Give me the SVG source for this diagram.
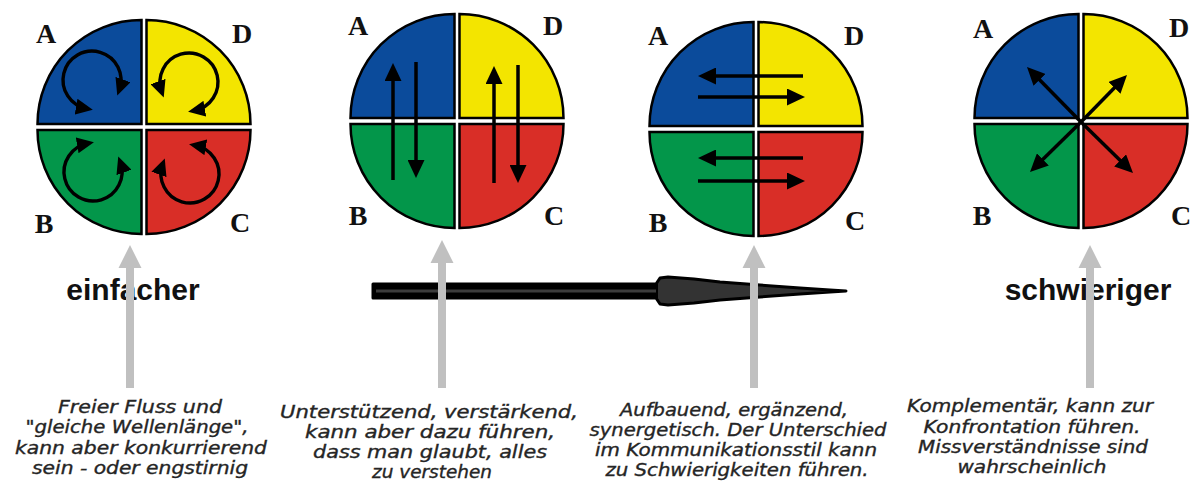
<svg xmlns="http://www.w3.org/2000/svg" width="1197" height="485" viewBox="0 0 1197 485">
<style>
.q{stroke:#000;stroke-width:2.5;stroke-linejoin:miter}
.qa{fill:#0b4b9b}.qd{fill:#f3e500}.qb{fill:#03964a}.qc{fill:#d92e27}
.lbl{font-family:"Liberation Serif",serif;font-weight:bold;font-size:28px;fill:#111;text-anchor:middle}
.ar{fill:none;stroke:#000;stroke-width:3.5;marker-end:url(#ah)}
.cr{fill:none;stroke:#000;stroke-width:3.4;marker-start:url(#ahs);marker-end:url(#ahs)}
.big{font-family:"Liberation Sans",Arial,sans-serif;font-weight:bold;font-size:30px;fill:#111;text-anchor:middle}
.desc{font-family:"DejaVu Sans",Verdana,sans-serif;font-style:italic;font-size:17px;fill:#252525;stroke:#252525;stroke-width:0.35;text-anchor:middle}
.gray{fill:#c0c0c0}
</style>
<defs>
<marker id="ah" markerUnits="userSpaceOnUse" markerWidth="18" markerHeight="17" refX="12" refY="8.5" orient="auto"><path d="M0,0 L18,8.5 L0,17 Z" fill="#000"/></marker>
<marker id="ahs" markerUnits="userSpaceOnUse" markerWidth="17" markerHeight="16" refX="11" refY="8" orient="auto-start-reverse"><path d="M0,0 L17,8 L0,16 Z" fill="#000"/></marker>
</defs>
<rect width="1197" height="485" fill="#fff"/>

<g id="flow-arrow">
<path d="M373,284 L656,284 L660,278 L668,277 L694,279 L720,282 L760,285 L800,288 L830,290 L846,291 L830,292 L800,294 L760,297 L720,300 L694,303 L668,305 L660,304 L656,298 L373,298 Z" fill="#333" stroke="#000" stroke-width="3" stroke-linejoin="round"/>
<rect x="373" y="284" width="285" height="14" fill="#000"/>
<rect x="376" y="289.5" width="280" height="3" fill="#3c3c3c"/>
</g>

<g id="circle1">
<path class="q qa" d="M141.5,124 L37.5,124 A104,104 0 0 1 141.5,20 Z"/>
<path class="q qd" d="M146.5,124 L146.5,20 A104,104 0 0 1 250.5,124 Z"/>
<path class="q qc" d="M146.5,130 L250.5,130 A104,104 0 0 1 146.5,234 Z"/>
<path class="q qb" d="M141.5,130 L141.5,234 A104,104 0 0 1 37.5,130 Z"/>
<path class="cr" d="M86.9,108.6 A29,29 0 1 1 119.3,89.9"/>
<path class="cr" d="M194,110.6 A29,29 0 1 0 161.7,91.9"/>
<path class="cr" d="M120.3,162.1 A29,29 0 1 1 88,143.4"/>
<path class="cr" d="M162.7,164.1 A29,29 0 1 0 195,145.4"/>
<text class="lbl" x="46" y="43">A</text>
<text class="lbl" x="242" y="43">D</text>
<text class="lbl" x="44" y="233">B</text>
<text class="lbl" x="240" y="232">C</text>
</g>

<g id="circle2">
<path class="q qa" d="M454.5,118 L350.5,118 A104,104 0 0 1 454.5,14 Z"/>
<path class="q qd" d="M459.5,118 L459.5,14 A104,104 0 0 1 563.5,118 Z"/>
<path class="q qc" d="M459.5,124 L563.5,124 A104,104 0 0 1 459.5,228 Z"/>
<path class="q qb" d="M454.5,124 L454.5,228 A104,104 0 0 1 350.5,124 Z"/>
<path class="ar" d="M393,180 L393,69"/>
<path class="ar" d="M416,62 L416,172"/>
<path class="ar" d="M494,183 L494,72"/>
<path class="ar" d="M518,65 L518,177"/>
<text class="lbl" x="358" y="35">A</text>
<text class="lbl" x="553" y="35">D</text>
<text class="lbl" x="358" y="225">B</text>
<text class="lbl" x="554" y="225">C</text>
</g>

<g id="circle3">
<path class="q qa" d="M753.5,126 L649.5,126 A104,104 0 0 1 753.5,22 Z"/>
<path class="q qd" d="M758.5,126 L758.5,22 A104,104 0 0 1 862.5,126 Z"/>
<path class="q qc" d="M758.5,132 L862.5,132 A104,104 0 0 1 758.5,236 Z"/>
<path class="q qb" d="M753.5,132 L753.5,236 A104,104 0 0 1 649.5,132 Z"/>
<path class="ar" d="M803,76 L704,76"/>
<path class="ar" d="M698,97 L799,97"/>
<path class="ar" d="M803,158 L704,158"/>
<path class="ar" d="M698,181 L799,181"/>
<text class="lbl" x="658" y="45">A</text>
<text class="lbl" x="854" y="45">D</text>
<text class="lbl" x="658" y="232">B</text>
<text class="lbl" x="855" y="230">C</text>
</g>

<g id="circle4">
<path class="q qa" d="M1078.5,118 L974.5,118 A104,104 0 0 1 1078.5,14 Z"/>
<path class="q qd" d="M1083.5,118 L1083.5,14 A104,104 0 0 1 1187.5,118 Z"/>
<path class="q qc" d="M1083.5,124 L1187.5,124 A104,104 0 0 1 1083.5,228 Z"/>
<path class="q qb" d="M1078.5,124 L1078.5,228 A104,104 0 0 1 974.5,124 Z"/>
<path class="ar" d="M1081,122 L1031.2,71.3"/>
<path class="ar" d="M1081,122 L1122.8,79.3"/>
<path class="ar" d="M1081,122 L1034.3,167.8"/>
<path class="ar" d="M1081,122 L1128.7,168.8"/>
<text class="lbl" x="983" y="38">A</text>
<text class="lbl" x="1179" y="37">D</text>
<text class="lbl" x="982" y="225">B</text>
<text class="lbl" x="1181" y="225">C</text>
</g>

<g id="label-easy"><text class="big" x="133" y="300">einfacher</text></g>
<g id="label-hard"><text class="big" x="1088" y="300">schwieriger</text></g>

<g id="desc1">
<text class="desc" x="140" y="413" textLength="164" lengthAdjust="spacingAndGlyphs">Freier Fluss und</text>
<text class="desc" x="137" y="433" textLength="223" lengthAdjust="spacingAndGlyphs">"gleiche Wellenlänge",</text>
<text class="desc" x="141" y="454" textLength="252" lengthAdjust="spacingAndGlyphs">kann aber konkurrierend</text>
<text class="desc" x="140" y="474" textLength="216" lengthAdjust="spacingAndGlyphs">sein - oder engstirnig</text>
</g>
<g id="desc2">
<text class="desc" x="429" y="418" textLength="298" lengthAdjust="spacingAndGlyphs">Unterstützend, verstärkend,</text>
<text class="desc" x="430" y="438" textLength="250" lengthAdjust="spacingAndGlyphs">kann aber dazu führen,</text>
<text class="desc" x="430" y="458" textLength="234" lengthAdjust="spacingAndGlyphs">dass man glaubt, alles</text>
<text class="desc" x="432" y="478" textLength="120" lengthAdjust="spacingAndGlyphs">zu verstehen</text>
</g>
<g id="desc3">
<text class="desc" x="734" y="416" textLength="228" lengthAdjust="spacingAndGlyphs">Aufbauend, ergänzend,</text>
<text class="desc" x="738" y="436" textLength="297" lengthAdjust="spacingAndGlyphs">synergetisch. Der Unterschied</text>
<text class="desc" x="736" y="456" textLength="282" lengthAdjust="spacingAndGlyphs">im Kommunikationsstil kann</text>
<text class="desc" x="737" y="476" textLength="263" lengthAdjust="spacingAndGlyphs">zu Schwierigkeiten führen.</text>
</g>
<g id="desc4">
<text class="desc" x="1030" y="412" textLength="246" lengthAdjust="spacingAndGlyphs">Komplementär, kann zur</text>
<text class="desc" x="1032" y="433" textLength="217" lengthAdjust="spacingAndGlyphs">Konfrontation führen.</text>
<text class="desc" x="1033" y="453" textLength="230" lengthAdjust="spacingAndGlyphs">Missverständnisse sind</text>
<text class="desc" x="1032" y="473" textLength="149" lengthAdjust="spacingAndGlyphs">wahrscheinlich</text>
</g>

<g id="connectors">
<path class="gray" d="M126,388 L126,268 L118.5,268 L130,245 L141.5,268 L134,268 L134,388 Z"/>
<path class="gray" d="M438,388 L438,263 L430.5,263 L442,240 L453.5,263 L446,263 L446,388 Z"/>
<path class="gray" d="M750,388 L750,268 L742.5,268 L754,245 L765.5,268 L758,268 L758,388 Z"/>
<path class="gray" d="M1086,388 L1086,268 L1078.5,268 L1090,245 L1101.5,268 L1094,268 L1094,388 Z"/>
</g>
</svg>
